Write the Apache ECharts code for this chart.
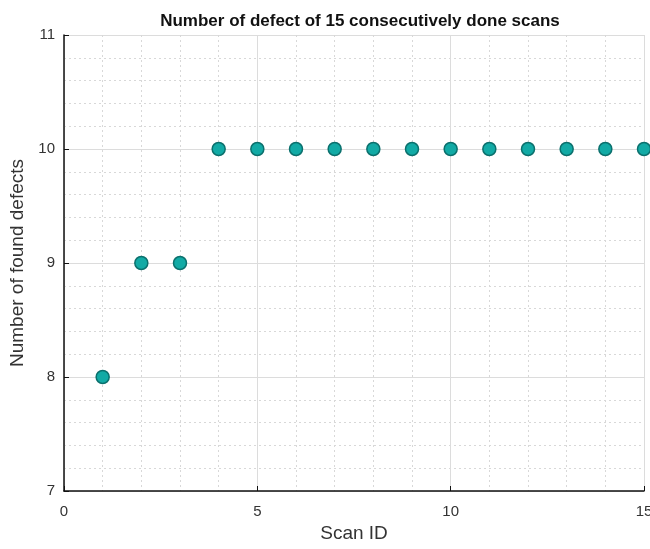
<!DOCTYPE html>
<html><head><meta charset="utf-8">
<script src="https://cdn.jsdelivr.net/npm/echarts@6/dist/echarts.min.js"></script>
<style>html,body{margin:0;padding:0;background:#fff}#c{width:650px;height:549px}</style>
</head><body><div id="c"></div>
<script>
const scanIds = [1,2,3,4,5,6,7,8,9,10,11,12,13,14,15];
const defects = [8,9,9,10,10,10,10,10,10,10,10,10,10,10,10];
const xTicks = [0,5,10,15];
const yTicks = [7,8,9,10,11];
const chart = echarts.init(document.getElementById('c'), null, {renderer:'canvas'});
chart.setOption({
  animation:false,
  backgroundColor:'#fff',
  title:{text:'Number of defect of 15 consecutively done scans',left:355,top:8,textAlign:'center',
    textStyle:{fontFamily:'Liberation Sans',fontWeight:'bold',fontSize:17,color:'#111'}},
  grid:{left:64,right:6,top:35,bottom:58,containLabel:false,outerBoundsMode:'none'},
  xAxis:{type:'value',min:xTicks[0],max:xTicks[xTicks.length-1],interval:5,
    name:'Scan ID',nameLocation:'middle',nameGap:27,
    nameTextStyle:{fontFamily:'Liberation Sans',fontSize:19,color:'#333'},
    axisLine:{show:true,onZero:false,lineStyle:{color:'#111',width:1.5}},
    axisTick:{show:true,inside:true,length:5,lineStyle:{color:'#111'}},
    axisLabel:{fontFamily:'Liberation Sans',fontSize:15,color:'#333',margin:13},
    splitLine:{show:true,lineStyle:{color:'#dcdcdc',width:1}},
    minorTick:{show:false,splitNumber:5},
    minorSplitLine:{show:true,lineStyle:{color:'#d8d8d8',type:[2,3],width:1}}
  },
  yAxis:{type:'value',min:yTicks[0],max:yTicks[yTicks.length-1],interval:1,
    name:'Number of found defects',nameLocation:'middle',nameGap:35,
    nameTextStyle:{fontFamily:'Liberation Sans',fontSize:19,color:'#333'},
    axisLine:{show:true,onZero:false,lineStyle:{color:'#111',width:1.5}},
    axisTick:{show:true,inside:true,length:5,lineStyle:{color:'#111'}},
    axisLabel:{fontFamily:'Liberation Sans',fontSize:15,color:'#333',margin:9},
    splitLine:{show:true,lineStyle:{color:'#dcdcdc',width:1}},
    minorTick:{show:false,splitNumber:5},
    minorSplitLine:{show:true,lineStyle:{color:'#d8d8d8',type:[2,3],width:1}}
  },
  series:[{type:'scatter',data:scanIds.map((x,i)=>[x,defects[i]]),symbol:'circle',symbolSize:13,
    itemStyle:{color:'#12aaa5',borderColor:'#0b706d',borderWidth:1.5,opacity:1}}]
});
</script></body></html>
